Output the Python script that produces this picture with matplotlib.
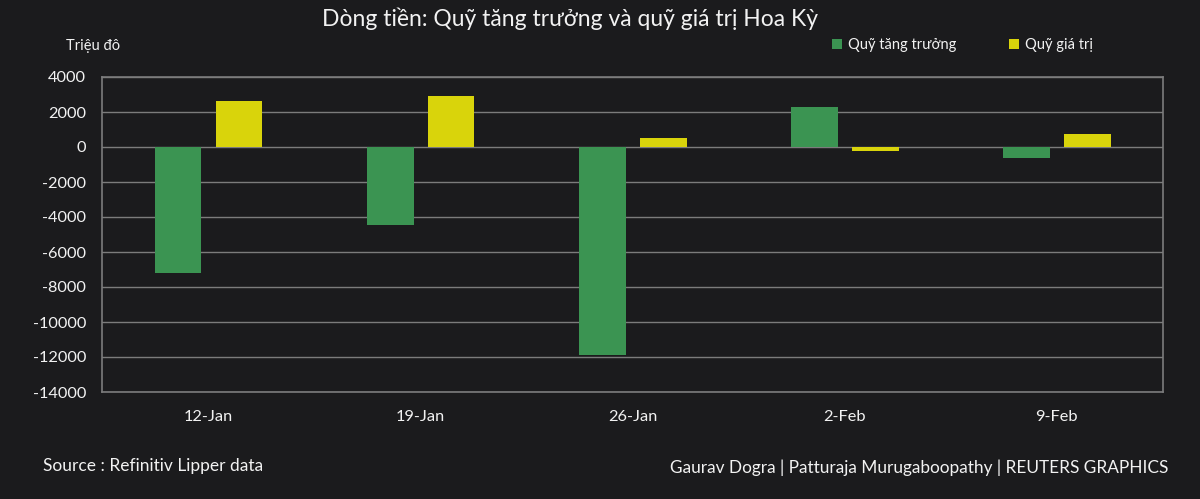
import matplotlib
matplotlib.use("Agg")
import matplotlib.pyplot as plt
import numpy as np

categories = ["12-Jan", "19-Jan", "26-Jan", "2-Feb", "9-Feb"]
growth = [-7200, -4450, -11900, 2280, -630]
value = [2650, 2900, 500, -200, 760]
yticks = [4000, 2000, 0, -2000, -4000, -6000, -8000, -10000, -12000, -14000]

BG = "#1b1b1d"
GREEN = "#3b9452"
YELLOW = "#d9d40b"
GRID = "#7c7c7c"
TXT = "#f2f2f2"

plt.rcParams['font.family'] = ['Lato', 'DejaVu Sans']

fig = plt.figure(figsize=(12, 4.99), dpi=100)
fig.patch.set_facecolor(BG)
W, H = 1200, 499
ax = fig.add_axes([102 / W, 1 - 392 / H, (1163 - 102) / W, (392 - 77) / H])
ax.set_facecolor(BG)

x = np.arange(len(categories))
w = 0.22
b1 = ax.bar(x - 0.142, growth, w, color=GREEN, label="Quỹ tăng trưởng", zorder=3)
b2 = ax.bar(x + 0.145, value, w, color=YELLOW, label="Quỹ giá trị", zorder=3)

ax.set_xlim(-0.5, len(categories) - 0.5)
ax.set_ylim(-14000, 4000)
ax.set_yticks(yticks)
ax.set_yticklabels([str(v) for v in yticks])
ax.set_xticks(x)
ax.set_xticklabels(categories)
ax.tick_params(axis='both', length=0, colors=TXT, labelsize=11.8)
ax.tick_params(axis='y', pad=11.5)
ax.tick_params(axis='x', pad=13)
ax.grid(axis='y', color=GRID, linewidth=1, zorder=0)
for s in ax.spines.values():
    s.set_color(GRID)
    s.set_linewidth(1.2)

fig.text(570 / W, 1 - 19 / H, "Dòng tiền: Quỹ tăng trưởng và quỹ giá trị Hoa Kỳ",
         ha='center', va='center', color=TXT, fontsize=16.5)
fig.text(66 / W, 1 - 46 / H, "Triệu đô", ha='left', va='center', color=TXT, fontsize=10.5)

leg = fig.legend(handles=[b1, b2], loc='center left', bbox_to_anchor=(832 / W, 1 - 45 / H),
                 ncol=2, frameon=False, fontsize=10.5, labelcolor=TXT,
                 handlelength=0.7, handleheight=0.7, handletextpad=0.4,
                 columnspacing=3.6, borderaxespad=0, borderpad=0)

fig.text(43 / W, 1 - 466 / H, "Source : Refinitiv Lipper data", ha='left', va='center',
         color=TXT, fontsize=12.5)
fig.text(1168 / W, 1 - 468 / H, "Gaurav Dogra | Patturaja Murugaboopathy | REUTERS GRAPHICS",
         ha='right', va='center', color=TXT, fontsize=12.4)

fig.savefig("out.png", dpi=100, facecolor=BG)
